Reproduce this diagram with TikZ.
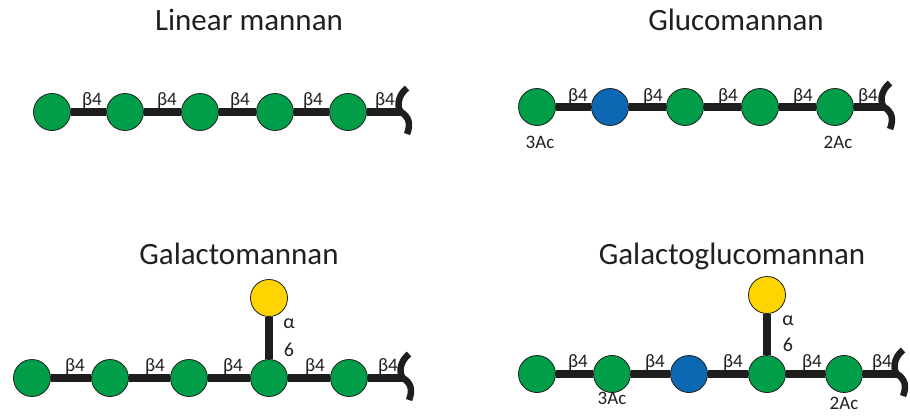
\documentclass[tikz,border=0pt]{standalone}
\usepackage{fontspec}
\setmainfont{Carlito}
\usetikzlibrary{backgrounds}
\definecolor{manGreen}{RGB}{0,158,73}
\definecolor{glcBlue}{RGB}{12,104,178}
\definecolor{galYellow}{RGB}{255,212,0}
\definecolor{bondcol}{RGB}{30,30,28}
\definecolor{txtcol}{RGB}{35,31,32}
\begin{document}
\begin{tikzpicture}[x=1pt,y=-1pt,
  sugar/.style={circle, draw=bondcol, line width=0.8pt, minimum size=37pt, inner sep=0pt},
  man/.style={sugar, fill=manGreen},
  glc/.style={sugar, fill=glcBlue},
  gal/.style={sugar, fill=galYellow},
  bond/.style={line width=7.5pt, draw=bondcol},
  wave/.style={line width=6.5pt, draw=bondcol},
  link/.style={font=\fontsize{19}{19}\selectfont, inner sep=0pt, anchor=base, text=txtcol},
  linkpos/.style={font=\fontsize{20}{20}\selectfont, inner sep=0pt, anchor=center, text=txtcol},
  title/.style={font=\fontsize{31}{31}\selectfont, inner sep=0pt, anchor=base, text=txtcol}]
\path[use as bounding box] (0,0) rectangle (910,418);

% ---------- Linear mannan ----------
\node[title] (t1) at (249,30) {Linear mannan};
\node[man] (a1) at (52,112) {};
\node[man] (a2) at (125,112) {};
\node[man] (a3) at (200,112) {};
\node[man] (a4) at (275,112) {};
\node[man] (a5) at (348,112) {};
\coordinate (ea) at (401,112);
\begin{scope}[on background layer]
\draw[bond] (a1) -- (a2) -- (a3) -- (a4) -- (a5) -- (ea);
\end{scope}
\draw[wave] ([shift={(6,-24)}]ea) .. controls ([shift={(-4,-16)}]ea) and ([shift={(-4,-4)}]ea) .. (ea) .. controls ([shift={(8,5)}]ea) and ([shift={(10,12)}]ea) .. ([shift={(6,22)}]ea);
\node[link] (la1) at (92,105) {β4};
\node[link] (la2) at (167,105) {β4};
\node[link] (la3) at (240,105) {β4};
\node[link] (la4) at (313,105) {β4};
\node[link] (la5) at (385,105) {β4};

% ---------- Glucomannan ----------
\node[title] (t2) at (736,30) {Glucomannan};
\node[man] (b1) at (537,107) {};
\node[glc] (b2) at (610,107) {};
\node[man] (b3) at (685,107) {};
\node[man] (b4) at (760,107) {};
\node[man] (b5) at (835,107) {};
\coordinate (eb) at (884,107);
\begin{scope}[on background layer]
\draw[bond] (b1) -- (b2) -- (b3) -- (b4) -- (b5) -- (eb);
\end{scope}
\draw[wave] ([shift={(6,-24)}]eb) .. controls ([shift={(-4,-16)}]eb) and ([shift={(-4,-4)}]eb) .. (eb) .. controls ([shift={(8,5)}]eb) and ([shift={(10,12)}]eb) .. ([shift={(6,22)}]eb);
\node[link] (lb1) at (578,101) {β4};
\node[link] (lb2) at (653,101) {β4};
\node[link] (lb3) at (728,101) {β4};
\node[link] (lb4) at (803,101) {β4};
\node[link] (lb5) at (868,101) {β4};
\node[link] (acb1) at (540,148) {3Ac};
\node[link] (acb2) at (838,148) {2Ac};

% ---------- Galactomannan ----------
\node[title] (t3) at (239,264) {Galactomannan};
\node[man] (c1) at (32,378) {};
\node[man] (c2) at (110,378) {};
\node[man] (c3) at (189,378) {};
\node[man] (c4) at (269,378) {};
\node[man] (c5) at (349,378) {};
\node[gal] (cg) at (269,298) {};
\coordinate (ec) at (403,378);
\begin{scope}[on background layer]
\draw[bond] (c1) -- (c2) -- (c3) -- (c4) -- (c5) -- (ec);
\draw[bond] (cg) -- (c4);
\end{scope}
\draw[wave] ([shift={(6,-24)}]ec) .. controls ([shift={(-4,-16)}]ec) and ([shift={(-4,-4)}]ec) .. (ec) .. controls ([shift={(8,5)}]ec) and ([shift={(10,12)}]ec) .. ([shift={(6,22)}]ec);
\node[link] (lc1) at (75,371) {β4};
\node[link] (lc2) at (155,371) {β4};
\node[link] (lc3) at (233,371) {β4};
\node[link] (lc4) at (315,371) {β4};
\node[link] (lc5) at (388,371) {β4};
\node[linkpos] (alc) at (289,324) {α};
\node[linkpos] (sxc) at (289,350) {6};

% ---------- Galactoglucomannan ----------
\node[title] (t4) at (732,264) {Galactoglucomannan};
\node[man] (d1) at (537,374) {};
\node[man] (d2) at (612,374) {};
\node[glc] (d3) at (689,374) {};
\node[man] (d4) at (767,374) {};
\node[man] (d5) at (844,374) {};
\node[gal] (dg) at (767,295) {};
\coordinate (ed) at (897,374);
\begin{scope}[on background layer]
\draw[bond] (d1) -- (d2) -- (d3) -- (d4) -- (d5) -- (ed);
\draw[bond] (dg) -- (d4);
\end{scope}
\draw[wave] ([shift={(6,-24)}]ed) .. controls ([shift={(-4,-16)}]ed) and ([shift={(-4,-4)}]ed) .. (ed) .. controls ([shift={(8,5)}]ed) and ([shift={(10,12)}]ed) .. ([shift={(6,22)}]ed);
\node[link] (ld1) at (578,367) {β4};
\node[link] (ld2) at (655,367) {β4};
\node[link] (ld3) at (733,367) {β4};
\node[link] (ld4) at (812,367) {β4};
\node[link] (ld5) at (882,367) {β4};
\node[linkpos] (ald) at (788,321) {α};
\node[linkpos] (sxd) at (788,345) {6};
\node[link] (acd1) at (612,404) {3Ac};
\node[link] (acd2) at (844,409) {2Ac};
\end{tikzpicture}
\end{document}
